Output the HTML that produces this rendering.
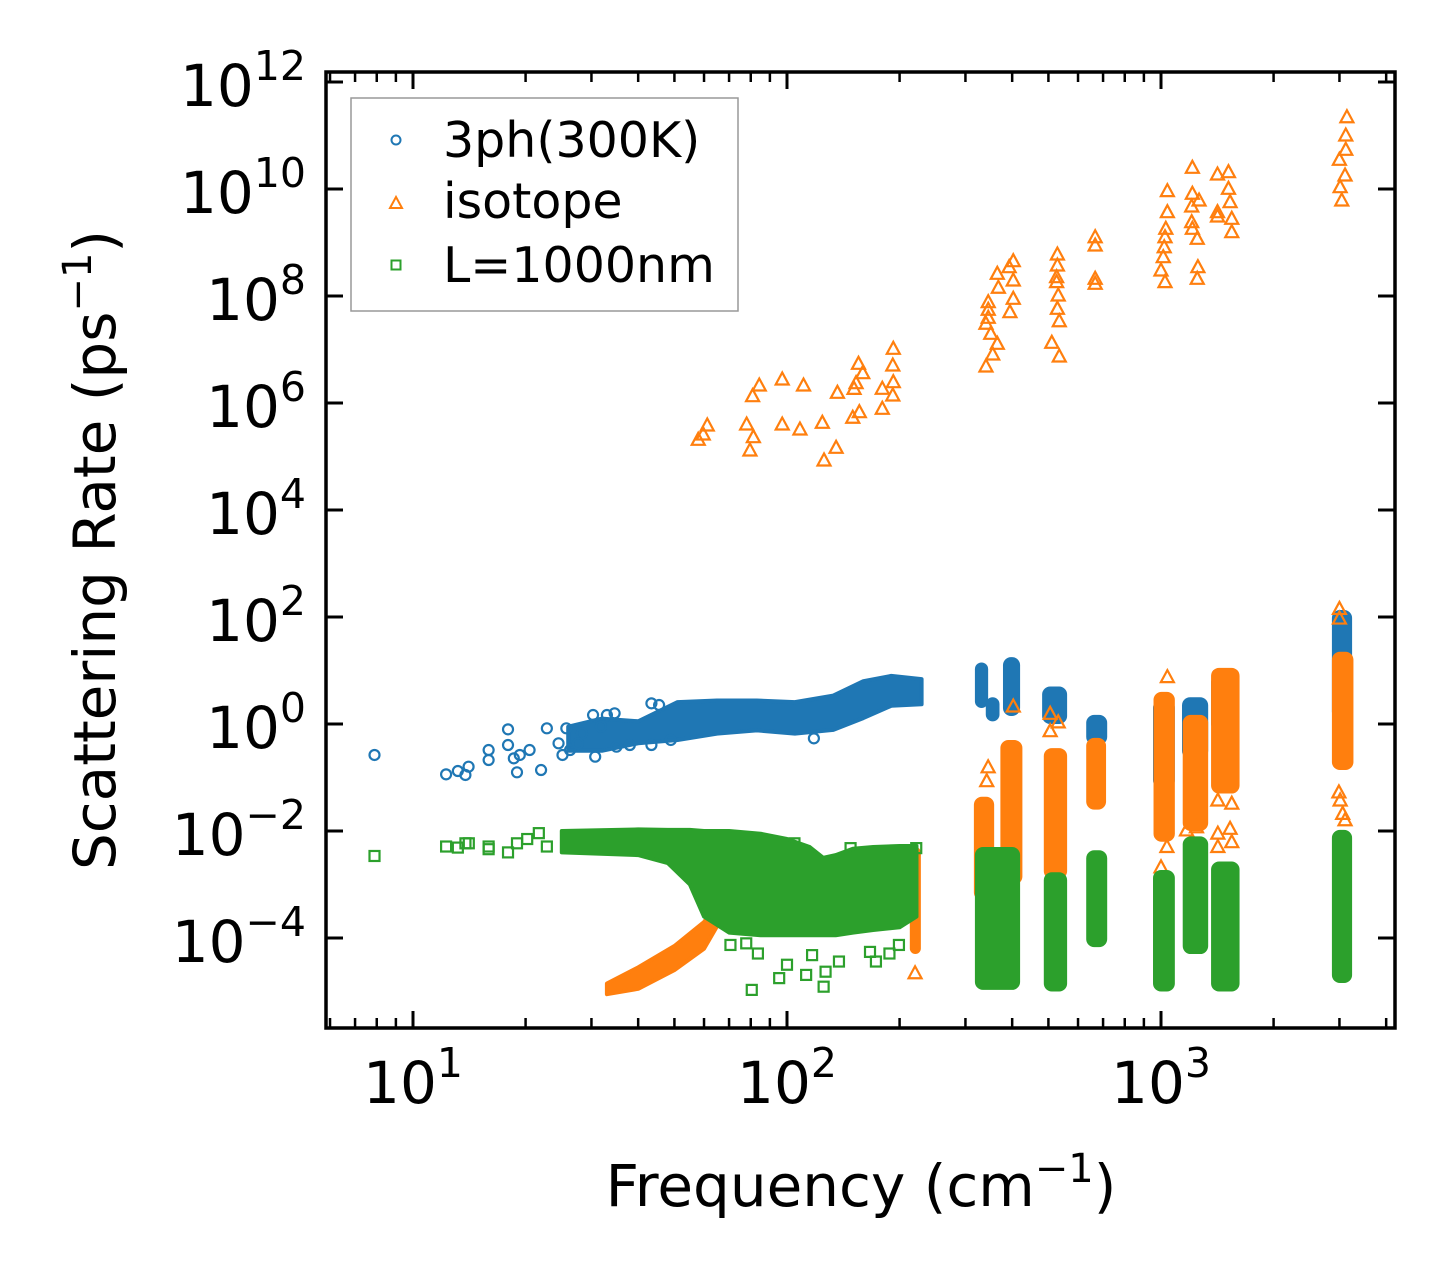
<!DOCTYPE html>
<html><head><meta charset="utf-8"><style>
html,body{margin:0;padding:0;background:#fff;}
svg{display:block;font-family:"DejaVu Sans","Liberation Sans",sans-serif;}
</style></head><body>
<svg id="chart" width="1455" height="1279" viewBox="0 0 1455 1279" xmlns="http://www.w3.org/2000/svg">
<rect width="1455" height="1279" fill="#fff"/>
<g id="marks"></g>
<g id="axes"></g>
<g id="legend">
  <rect x="351" y="98" width="387" height="213" fill="#fff" fill-opacity="0.8" stroke="#999" stroke-width="1.5"/>
  <circle cx="396" cy="140" r="4.5" fill="none" stroke="#1f77b4" stroke-width="2"/>
  <text x="443" y="157" font-size="49">3ph(300K)</text>
  <polygon points="396,197 390,208 402,208" fill="none" stroke="#ff7f0e" stroke-width="2"/>
  <text x="443" y="218" font-size="49">isotope</text>
  <rect x="391.5" y="260.5" width="9" height="9" fill="none" stroke="#2ca02c" stroke-width="2"/>
  <text x="443" y="282" font-size="49">L=1000nm</text>
</g>
<text x="861" y="1206" font-size="58" text-anchor="middle">Frequency (cm<tspan dy="-24" font-size="40">−1</tspan><tspan dy="24">)</tspan></text>
<text transform="translate(115,550) rotate(-90)" font-size="58" text-anchor="middle">Scattering Rate (ps<tspan dy="-24" font-size="40">−1</tspan><tspan dy="24">)</tspan></text>
</svg>
<script>
// ---------- data ----------
const xTickValues=[10,100,1000];
const xTickExps=["1","2","3"];
const yTickExps=[12,10,8,6,4,2,0,-2,-4];
const xMinorValues=[6,7,8,9,20,30,40,50,60,70,80,90,200,300,400,500,600,700,800,900,2000,3000,4000];

// 3ph sparse points (frequency cm^-1, log10 rate)
const phFreq=[7.89,12.26,13.18,13.81,14.08,15.93,15.93,17.95,17.95,18.6,19.3,20.5,18.97,22.0,22.8,24.5,25.1,25.7,26.3,28.3,27.6,30.3,30.7,33.0,34.6,35.0,31.8,38.0,43.4,43.4,45.5,48.9,118];
const phLog=[-0.579,-0.941,-0.879,-0.953,-0.798,-0.486,-0.673,-0.100,-0.393,-0.642,-0.579,-0.486,-0.903,-0.860,-0.081,-0.361,-0.579,-0.081,-0.486,-0.174,-0.361,0.168,-0.611,0.168,0.200,-0.424,-0.050,-0.393,-0.393,0.386,0.355,-0.299,-0.268];
// 3ph dense band (low-frequency branch)
const phBandFreq=[26,32,40,51,65,83,105,133,160,190,229];
const phBandHi=[-0.05,0.1,0.05,0.41,0.44,0.44,0.41,0.53,0.8,0.9,0.84];
const phBandLo=[-0.5,-0.5,-0.36,-0.30,-0.18,-0.12,-0.18,-0.11,0.11,0.34,0.37];
// 3ph dense clusters at high frequency
const phClFreqLo=[318,340,378,481,631,952,1138,1361,2864];
const phClFreqHi=[345,370,420,561,718,1089,1337,1456,3243];
const phClLogLo=[0.3,0.05,0.15,0.0,-0.39,-1.2,-0.65,-0.1,0.08];
const phClLogHi=[1.15,0.5,1.25,0.7,0.17,0.45,0.5,0.88,2.13];

// isotope sparse points
const isoFreq=[61.2,59.7,57.9,78.0,81.3,79.6,80.9,84.3,97.1,97.1,108.3,110.7,124.3,125.6,135.3,136.4,149.9,151.1,153.0,155.3,159.4,156.1,179.8,179.8,191.8,192.4,191.8,192.4,
 340.4,354.8,365.0,350.6,340.4,345.2,345.2,345.2,367.4,365.0,394.5,402.7,402.7,392.6,402.7,510.5,534.6,534.6,528.4,531.1,525.9,525.9,528.4,528.4,666.8,666.8,666.8,666.8,
 3141,3119,3119,2999,3105,3013,3043,1040,1040,1030,1025,1020,1014,1000,1025,1213,1213,1208,1264,1208,1213,1250,1255,1250,1416,1515,1515,1530,1416,1416,1546,1546,
 402.7,505.4,531,505.4,345,342,1040,3000,3000,1000,1419,1546,1530,1546,1419,1419,3060,3105,3013,2990,1037,1170,1244,220];
const isoLog=[5.589,5.421,5.321,5.607,5.370,5.121,6.137,6.336,6.449,5.607,5.514,6.336,5.639,4.935,5.172,6.200,5.733,6.274,6.380,6.742,6.567,5.838,5.901,6.275,6.150,6.398,6.710,7.022,
 6.692,6.916,7.116,7.303,7.490,7.602,7.751,7.894,8.163,8.424,7.707,7.957,8.299,8.548,8.660,7.134,6.879,7.538,7.770,8.019,8.268,8.361,8.579,8.785,8.237,8.331,8.953,9.108,
 11.351,11.009,10.742,10.555,10.262,10.043,9.794,9.969,9.576,9.265,9.108,8.921,8.735,8.486,8.268,10.405,9.920,9.682,9.794,9.389,9.265,9.078,8.548,8.331,10.280,10.324,10.013,9.763,9.576,9.495,9.452,9.202,
 0.336,0.2,0.04,-0.125,-0.8,-1.06,0.885,2.16,1.98,-2.67,-1.42,-1.48,-1.95,-2.2,-2.29,-2.04,-1.67,-1.79,-1.42,-1.27,-2.29,-1.98,-1.92,-4.65];
// isotope dense band (low-frequency rising branch)
const isoBandFreq=[33,40,50,60,66,75];
const isoBandHi=[-4.85,-4.55,-4.15,-3.7,-3.3,-3.3];
const isoBandLo=[-5.05,-4.95,-4.6,-4.2,-3.7,-3.6];
// isotope dense clusters
const isoClFreqLo=[316,372,486,631,955,1143,1361,2864,213];
const isoClFreqHi=[358,426,561,713,1089,1337,1622,3270,228];
const isoClLogLo=[-3.3,-3.0,-2.9,-1.6,-2.2,-2.0,-1.3,-0.86,-4.3];
const isoClLogHi=[-1.36,-0.3,-0.45,-0.26,0.6,0.17,1.05,1.35,-2.3];

// boundary (L=1000nm) sparse points
const bdFreq=[7.89,12.26,13.18,13.81,14.1,15.93,15.93,17.95,18.97,20.2,21.7,22.8,70.6,77.8,83.6,80.5,95.3,100,112.5,125.3,126.8,137.7,116.7,166.7,172.9,187.9,199.2,221.6,147.9,104.7,90.6];
const bdLog=[-2.467,-2.29,-2.31,-2.23,-2.23,-2.29,-2.34,-2.40,-2.23,-2.15,-2.04,-2.29,-4.13,-4.10,-4.29,-4.97,-4.75,-4.5,-4.69,-4.91,-4.63,-4.44,-4.32,-4.26,-4.44,-4.29,-4.13,-2.32,-2.32,-2.23,-2.29];
// boundary dense band (low-frequency)
const bdBandFreq=[25,40,48,55,60,70,85,100,115,125,135,150,170,200,222];
const bdBandHi=[-2.0,-1.97,-1.98,-1.98,-2.0,-2.0,-2.05,-2.15,-2.3,-2.5,-2.45,-2.33,-2.3,-2.28,-2.28];
const bdBandLo=[-2.4,-2.45,-2.6,-3.0,-3.6,-3.9,-3.95,-3.95,-3.95,-3.95,-3.95,-3.9,-3.85,-3.8,-3.6];
// boundary dense clusters
const bdClFreqLo=[318,486,631,952,1143,1361,2864];
const bdClFreqHi=[420,561,718,1089,1337,1622,3243];
const bdClLogLo=[-4.97,-5.0,-4.17,-5.0,-4.3,-5.0,-4.84];
const bdClLogHi=[-2.3,-2.77,-2.36,-2.73,-2.1,-2.57,-1.98];

// ---------- axes ----------
const X10=413, XDEC=374, Y0=724, YDEC=53.5;
const L=326,R=1395,T=72,B=1028;
function xs(f){return X10+XDEC*(Math.log10(f)-1);}
function ys(lg){return Y0-YDEC*lg;}
const NS="http://www.w3.org/2000/svg";
function mk(tag,attrs,parent){const e=document.createElementNS(NS,tag);for(const k in attrs)e.setAttribute(k,attrs[k]);parent.appendChild(e);return e;}
const C1="#1f77b4",C2="#ff7f0e",C3="#2ca02c";
const marks=document.getElementById('marks');
const axes=document.getElementById('axes');
mk('clipPath',{id:'clip'},marks);
mk('rect',{x:L,y:T,width:R-L,height:B-T},document.getElementById('clip'));
const G=mk('g',{'clip-path':'url(#clip)'},marks);

function band(freq,hi,lo,color,name){
  let pts=[];
  for(let i=0;i<freq.length;i++)pts.push(xs(freq[i]).toFixed(1)+','+ys(hi[i]).toFixed(1));
  for(let i=freq.length-1;i>=0;i--)pts.push(xs(freq[i]).toFixed(1)+','+ys(lo[i]).toFixed(1));
  const p=mk('polygon',{points:pts.join(' '),fill:color,stroke:color,'stroke-width':4,'stroke-linejoin':'round'},G);
  
  
}
function clusters(fLo,fHi,lLo,lHi,color,name){
  for(let i=0;i<fLo.length;i++){
    const x1=xs(fLo[i]),x2=xs(fHi[i]),y1=ys(lHi[i]),y2=ys(lLo[i]);
    const w=x2-x1;
    const r=mk('rect',{x:x1,y:y1,width:w,height:y2-y1,rx:Math.min(w/2,8),fill:color},G);
    
    
  }
}
function circles(f,l){
  for(let i=0;i<f.length;i++){
    const c=mk('circle',{cx:xs(f[i]),cy:ys(l[i]),r:5,fill:'none',stroke:C1,'stroke-width':2.2},G);
    
    
  }
}
function tris(f,l){
  for(let i=0;i<f.length;i++){
    const x=xs(f[i]),y=ys(l[i]);
    const t=mk('polygon',{points:`${x},${y-6.5} ${x-6.5},${y+5.5} ${x+6.5},${y+5.5}`,fill:'none',stroke:C2,'stroke-width':2.2},G);
    
    
  }
}
function squares(f,l){
  for(let i=0;i<f.length;i++){
    const x=xs(f[i]),y=ys(l[i]);
    const s=mk('rect',{x:x-5,y:y-5,width:10,height:10,fill:'none',stroke:C3,'stroke-width':2.2},G);
    
    
  }
}
band(phBandFreq,phBandHi,phBandLo,C1,'band-3ph');
clusters(phClFreqLo,phClFreqHi,phClLogLo,phClLogHi,C1,'cluster-3ph');
circles(phFreq,phLog);
band(isoBandFreq,isoBandHi,isoBandLo,C2,'band-isotope');
clusters(isoClFreqLo,isoClFreqHi,isoClLogLo,isoClLogHi,C2,'cluster-isotope');
tris(isoFreq,isoLog);
band(bdBandFreq,bdBandHi,bdBandLo,C3,'band-boundary');
clusters(bdClFreqLo,bdClFreqHi,bdClLogLo,bdClLogHi,C3,'cluster-boundary');
squares(bdFreq,bdLog);

const fr=mk('rect',{x:L,y:T,width:R-L,height:B-T,fill:'none',stroke:'#000','stroke-width':3.5},axes);


xTickValues.forEach((v,i)=>{
  const x=xs(v);
  mk('line',{x1:x,y1:B,x2:x,y2:B-17,stroke:'#000','stroke-width':3},axes);
  mk('line',{x1:x,y1:T,x2:x,y2:T+17,stroke:'#000','stroke-width':3},axes);
  const t=mk('text',{x:x,y:1103,'font-size':58,'text-anchor':'middle'},axes);
  
  
  t.innerHTML='10<tspan dy="-26" font-size="41">'+xTickExps[i]+'</tspan>';
});
xMinorValues.forEach(v=>{
  const x=xs(v); if(x<L||x>R)return;
  mk('line',{x1:x,y1:B,x2:x,y2:B-10,stroke:'#000','stroke-width':2.5},axes);
  mk('line',{x1:x,y1:T,x2:x,y2:T+10,stroke:'#000','stroke-width':2.5},axes);
});
yTickExps.forEach(e=>{
  const y=ys(e);
  mk('line',{x1:L,y1:y,x2:L+17,y2:y,stroke:'#000','stroke-width':3},axes);
  mk('line',{x1:R,y1:y,x2:R-17,y2:y,stroke:'#000','stroke-width':3},axes);
  const t=mk('text',{x:306,y:y+24,'font-size':58,'text-anchor':'end'},axes);
  
  
  const s=e<0?'−'+Math.abs(e):String(e);
  t.innerHTML='10<tspan dy="-26" font-size="41">'+s+'</tspan>';
});
</script>
</body></html>
